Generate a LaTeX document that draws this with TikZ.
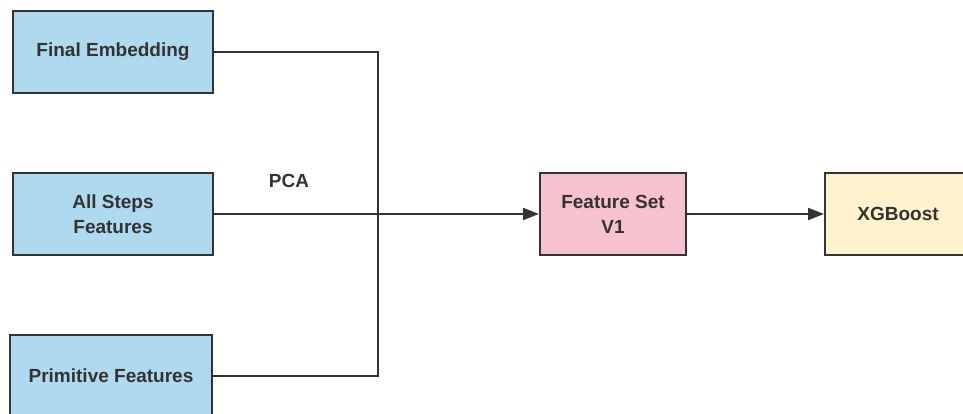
\documentclass[tikz,border=0pt]{standalone}
\usepackage{fontspec}
\setmainfont{Liberation Sans}
\usetikzlibrary{arrows.meta}
\definecolor{boxblue}{HTML}{AED9EE}
\definecolor{boxpink}{HTML}{F8C1CF}
\definecolor{boxyellow}{HTML}{FFF2CC}
\definecolor{linegray}{HTML}{333333}
\tikzset{
  blk/.style={draw=linegray, line width=2pt, minimum width=200pt, minimum height=82pt, inner sep=0pt, align=center, font=\fontsize{19}{25}\selectfont\bfseries, text=linegray},
  smallblk/.style={blk, minimum width=146pt},
  conn/.style={draw=linegray, line width=2pt},
  arr/.style={conn, -{Triangle[length=16pt,width=12pt]}}
}
\begin{document}
\begin{tikzpicture}[x=1pt,y=-1pt]
\useasboundingbox (0,0) rectangle (963,414);
\clip (0,0) rectangle (963,414);
\fill[white] (0,0) rectangle (963,414);
\node[blk, fill=boxblue] (fe) at (113,52) {Final Embedding};
\node[blk, fill=boxblue] (as) at (113,214) {All Steps\\Features};
\node[blk, fill=boxblue, minimum width=202pt] (pf) at (111,376) {Primitive Features};
\node[smallblk, fill=boxpink] (fs) at (613,214) {Feature Set\\V1};
\node[smallblk, fill=boxyellow] (xg) at (898,214) {XGBoost};
\coordinate (j) at (378,214);
\node[font=\fontsize{19}{25}\selectfont\bfseries, text=linegray] (pca) at (289,181) {PCA};
\draw[conn] (fe.east) -| (j);
\draw[conn] (pf.east) -| (j);
\draw[arr] (as.east) -- (fs.west);
\draw[arr] (fs.east) -- (xg.west);
\end{tikzpicture}
\end{document}
